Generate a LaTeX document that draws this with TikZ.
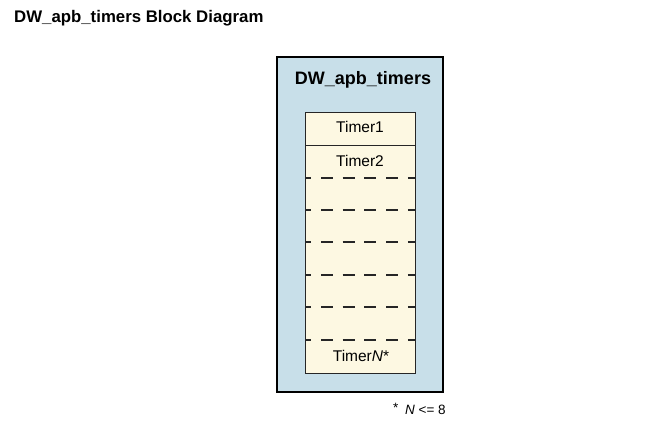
\documentclass[tikz,border=0pt]{standalone}
\usepackage{fontspec}
\setmainfont{Liberation Sans}
\definecolor{outerblue}{RGB}{200,223,233}
\definecolor{innercream}{RGB}{253,248,226}
\begin{document}
\begin{tikzpicture}[x=1pt,y=-1pt,
  outerbox/.style={draw=black, line width=1.3pt, fill=outerblue},
  innerbox/.style={draw=black!85, line width=1pt, fill=innercream},
  divline/.style={draw=black!85, line width=1pt},
  dashline/.style={draw=black!85, line width=1.1pt, dash pattern=on 12pt off 9.7pt, dash phase=5.7pt},
  lbl/.style={inner sep=0pt, font=\fontsize{15.5}{18}\selectfont},
]
\useasboundingbox (0,0) rectangle (669,427);
\node[anchor=west, inner sep=0pt, font=\bfseries\fontsize{16.8}{20}\selectfont] (title) at (14,18) {DW\_apb\_timers Block Diagram};
\path[outerbox] (277,57) rectangle (443,392);
\node[inner sep=0pt, font=\bfseries\fontsize{18}{21}\selectfont] (blk) at (363,80) {DW\_apb\_timers};
\path[innerbox] (305,113) rectangle (415,373);
\draw[divline] (305,146) -- (415,146);
\foreach \yy in {178,210,242,275,307,340} {\draw[dashline] (305,\yy) -- (415,\yy);}
\node[lbl] (t1) at (360,127) {Timer1};
\node[lbl] (t2) at (360,160.5) {Timer2};
\node[lbl] (tn) at (361,356) {Timer\textit{N}*};
\node[anchor=west, inner sep=0pt, font=\fontsize{13.5}{16}\selectfont] (fn) at (393,409) {\raisebox{0.35ex}{*}\enspace\textit{N} <= 8};
\end{tikzpicture}
\end{document}
